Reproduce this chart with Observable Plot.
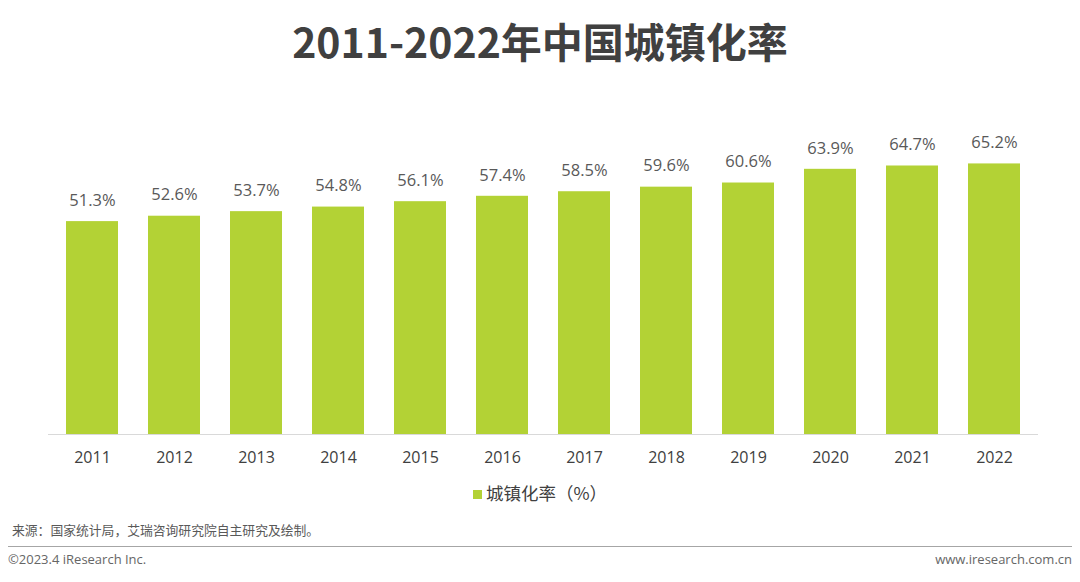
<!DOCTYPE html>
<html>
<head>
<meta charset="utf-8">
<script src="https://cdn.jsdelivr.net/npm/d3@7"></script>
<script src="https://cdn.jsdelivr.net/npm/@observablehq/plot@0.6"></script>
<style>
  html, body { margin: 0; padding: 0; background: #fff; }
  body { width: 1080px; height: 582px; position: relative; overflow: hidden;
         font-family: "Open Sans", "Noto Sans CJK SC", sans-serif; }
  #title { position: absolute; left: 0; width: 1080px; top: 12px; text-align: center;
           font-family: "Noto Sans CJK SC", sans-serif; font-weight: 700; font-size: 41px;
           color: #404040; line-height: 56px; }
  #chart { position: absolute; left: 0; top: 80px; }
  #legend { position: absolute; left: 0; width: 1080px; top: 481px; text-align: center;
            font-family: "Noto Sans CJK SC", sans-serif; font-size: 17.5px; color: #404040; line-height: 24px; }
  #legend .sw { display: inline-block; width: 9px; height: 9px; background: #B3D235; margin-right: 4px; vertical-align: 1px; }
  #source { position: absolute; left: 12px; top: 521px; font-family: "Noto Sans CJK SC", sans-serif;
            font-size: 12.8px; color: #595959; line-height: 18px; }
  #rule { position: absolute; left: 8px; width: 1064px; top: 546px; height: 0; border-top: 1.5px solid #a6a6a6; }
  #copy { position: absolute; left: 8px; top: 550px; font-size: 13px; color: #666; line-height: 18px; }
  #web { position: absolute; right: 8px; top: 550px; font-size: 13px; color: #666; line-height: 18px; }
</style>
</head>
<body>
<div id="title">2011-2022年中国城镇化率</div>
<div id="chart"></div>
<div id="legend"><span class="sw"></span>城镇化率（%）</div>
<div id="source">来源：国家统计局，艾瑞咨询研究院自主研究及绘制。</div>
<div id="rule"></div>
<div id="copy">©2023.4 iResearch Inc.</div>
<div id="web">www.iresearch.com.cn</div>
<script>
const years = ["2011","2012","2013","2014","2015","2016","2017","2018","2019","2020","2021","2022"];
const rates = [51.3, 52.6, 53.7, 54.8, 56.1, 57.4, 58.5, 59.6, 60.6, 63.9, 64.7, 65.2];
const data = years.map((y, i) => ({year: y, rate: rates[i]}));

const chart = Plot.plot({
  width: 1080,
  height: 400,
  marginLeft: 48,
  marginRight: 42,
  marginTop: 63.5,
  marginBottom: 46,
  style: { fontFamily: '"Open Sans", "Noto Sans CJK SC", sans-serif', background: "transparent" },
  x: { domain: years, paddingInner: 0.37, paddingOuter: 0.185, label: null },
  y: { domain: [0, 70], axis: null },
  marks: [
    Plot.barY(data, { x: "year", y: "rate", fill: "#B3D235" }),
    Plot.ruleY([0], { stroke: "#d9d9d9", strokeWidth: 1.2 }),
    Plot.text(data, { x: "year", y: "rate", text: d => d.rate.toFixed(1) + "%", dy: -21,
                      fontSize: 16.5, fill: "#595959" }),
    Plot.axisX({ tickSize: 0, tickPadding: 17, fontSize: 16, color: "#404040", label: null })
  ]
});
document.getElementById("chart").appendChild(chart);
</script>
</body>
</html>
